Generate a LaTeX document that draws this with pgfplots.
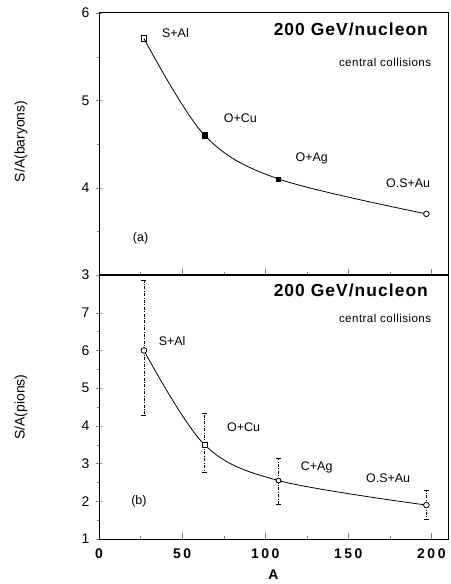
\documentclass[border=0pt]{standalone}
\usepackage{fontspec}
\setmainfont{Liberation Sans}
\usepackage{pgfplots}
\pgfplotsset{compat=1.18}
\tikzset{lbl/.style={font=\fontsize{12.5}{14}\selectfont, anchor=center},
  ttl/.style={anchor=east, font=\fontsize{17.5}{19}\selectfont\bfseries\addfontfeature{LetterSpace=6}},
  sub/.style={anchor=east, font=\fontsize{11.6}{13}\selectfont\addfontfeature{LetterSpace=4}}}
\pgfplotsset{
  panel/.style={
    scale only axis, width=349bp, xmin=0, xmax=210,
    anchor=south west,
    axis line style={line width=1pt},
    ytick align=center, xtick align=inside, ytick pos=left, xtick pos=bottom,
    major tick length=6bp, minor tick length=3bp,
    minor y tick num=1, minor x tick num=1,
    /pgf/number format/assume math mode=true,
    yticklabel style={font=\fontsize{14}{16}\selectfont, xshift=-3bp},
    ylabel style={font=\fontsize{14}{16}\selectfont, anchor=south, rotate=0},
    clip=false,
  },
}
\begin{document}
\begin{tikzpicture}
\begin{pgfinterruptboundingbox}
% ---------- top panel (a)
\begin{axis}[panel, at={(0bp,264bp)}, height=262bp, ymin=3, ymax=6, ytick={3,4,5,6},
  xtick={0,50,100,150,200}, xticklabels={}, ylabel={S/A(baryons)},
  ylabel style={at={(axis description cs:-0.195,0.51)}}]
\addplot[black, line width=0.8pt, smooth, tension=0.55] coordinates {(27,5.71) (63.5,4.60) (108,4.10) (197,3.70)};
\addplot[black, only marks, mark=square, mark size=2.6bp, mark options={fill=white, line width=0.8pt}] coordinates {(27,5.71)};
\addplot[black, only marks, mark=square*, mark size=2.6bp] coordinates {(63.5,4.60)};
\addplot[black, only marks, mark=square*, mark size=2bp] coordinates {(108,4.10)};
\addplot[black, only marks, mark=*, mark size=2.8bp, mark options={fill=white, line width=0.8pt}] coordinates {(197,3.70)};
\node[lbl] at (axis cs:46,5.77) {S+Al};
\node[lbl] at (axis cs:85,4.80) {O+Cu};
\node[lbl] at (axis cs:128,4.33) {O+Ag};
\node[lbl] at (axis cs:186,4.05) {O.S+Au};
\node[lbl] at (axis cs:25,3.42) {(a)};
\node[ttl] at (axis cs:200,5.81) {200 GeV/nucleon};
\node[sub] at (axis cs:202,5.44) {central collisions};
\end{axis}
% ---------- bottom panel (b)
\begin{axis}[panel, at={(0bp,0bp)}, height=264bp, ymin=1, ymax=8, ytick={1,2,3,4,5,6,7},
  xtick={0,50,100,150,200},
  xticklabel style={font=\fontsize{14}{16}\selectfont\bfseries\addfontfeature{LetterSpace=18}, anchor=center, yshift=-15bp},
  xlabel={A}, xlabel style={font=\fontsize{14}{16}\selectfont\bfseries, at={(axis description cs:0.5,0)}, anchor=center, yshift=-36bp},
  ylabel={S/A(pions)}, ylabel style={at={(axis description cs:-0.195,0.5)}}]
\addplot[black, only marks, mark=none,
  error bars/.cd, y dir=both, y explicit,
  error bar style={line width=0.6pt, dash pattern=on 3pt off 1.5pt on 0.8pt off 1.5pt},
  error mark options={rotate=90, mark size=2.5bp, solid, line width=0.7pt}]
  table[x=x, y=y, y error plus=ep, y error minus=em] {
  x y ep em
  27 6.0 1.85 1.72
  63.5 3.5 0.83 0.74
  108 2.55 0.58 0.62
  197 1.9 0.40 0.37
};
\addplot[black, line width=0.8pt, smooth, tension=0.55] coordinates {(27,6.0) (63.5,3.5) (108,2.55) (197,1.9)};
\addplot[black, only marks, mark=*, mark size=2.8bp, mark options={fill=white, line width=0.8pt}] coordinates {(27,6.0) (197,1.9)};
\addplot[black, only marks, mark=square*, mark size=2.6bp, mark options={fill=white, line width=0.8pt}] coordinates {(63.5,3.5)};
\addplot[black, only marks, mark=*, mark size=2.4bp, mark options={fill=white, line width=0.9pt}] coordinates {(108,2.55)};
\node[lbl] at (axis cs:44,6.25) {S+Al};
\node[lbl] at (axis cs:87,3.96) {O+Cu};
\node[lbl] at (axis cs:131,2.9) {C+Ag};
\node[lbl] at (axis cs:174,2.6) {O.S+Au};
\node[lbl] at (axis cs:24,1.99) {(b)};
\node[ttl] at (axis cs:200,7.58) {200 GeV/nucleon};
\node[sub] at (axis cs:202,6.86) {central collisions};
\end{axis}
\end{pgfinterruptboundingbox}
\path (-99bp,-45bp) rectangle (352bp,539bp);
\end{tikzpicture}
\end{document}
